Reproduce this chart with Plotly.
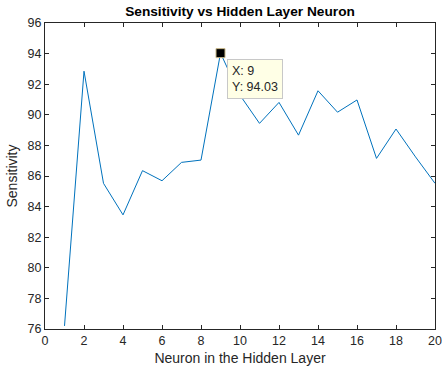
import plotly.graph_objects as go

# Number of neurons in the hidden layer and the resulting sensitivity (%)
neurons = list(range(1, 21))
sensitivity = [76.2, 92.85, 85.52, 83.46, 86.35, 85.69, 86.89, 87.04, 94.03, 91.28,
               89.44, 90.81, 88.67, 91.57, 90.17, 90.97, 87.15, 89.07, 87.25, 85.52]

# Highlighted point (data tip)
tip_x = 9
tip_y = sensitivity[neurons.index(tip_x)]

x_ticks = list(range(0, 21, 2))
y_ticks = list(range(76, 97, 2))

font_family = "Liberation Sans, Arial, sans-serif"
text_color = "#262626"

fig = go.Figure()
fig.add_trace(go.Scatter(
    x=neurons, y=sensitivity, mode="lines",
    line=dict(color="#0072BD", width=1),
    hoverinfo="skip", showlegend=False,
))
fig.add_trace(go.Scatter(
    x=[tip_x], y=[tip_y], mode="markers",
    marker=dict(symbol="square", size=9, color="black",
                line=dict(color="#C8B98A", width=1)),
    hoverinfo="skip", showlegend=False,
))

fig.add_annotation(
    x=tip_x, y=tip_y, xref="x", yref="y",
    text="X: %d<br>Y: %.2f" % (tip_x, tip_y),
    showarrow=False, xanchor="left", yanchor="top", align="left",
    xshift=6, yshift=-6,
    bgcolor="#FFFFE6", bordercolor="#C8C8C8", borderwidth=1, borderpad=4,
    font=dict(family=font_family, size=12.5, color="#262626"),
)

axis_common = dict(
    showgrid=False, zeroline=False, showline=True, linecolor="#262626",
    linewidth=1, mirror="ticks", ticks="inside", ticklen=4, tickwidth=1,
    tickcolor="#262626", automargin=False,
    tickfont=dict(family=font_family, size=12.5, color=text_color),
)

fig.update_xaxes(
    range=[0, 20], tickvals=x_ticks, ticktext=[str(v) for v in x_ticks],
    title=dict(text="Neuron in the Hidden Layer", standoff=6,
               font=dict(family=font_family, size=14, color=text_color)),
    **axis_common,
)
fig.update_yaxes(
    range=[76, 96], tickvals=y_ticks, ticktext=[str(v) for v in y_ticks],
    title=dict(text="Sensitivity", standoff=6,
               font=dict(family=font_family, size=14, color=text_color)),
    **axis_common,
)

fig.update_layout(
    width=442, height=373,
    margin=dict(l=45, r=7, t=23, b=44),
    paper_bgcolor="white", plot_bgcolor="white",
    title=dict(text="<b>Sensitivity vs Hidden Layer Neuron</b>",
               x=(45 + 435) / 2 / 442, xanchor="center", y=1 - 11 / 373, yanchor="middle",
               font=dict(family=font_family, size=13.7, color="black")),
)

fig.write_html("out.html")
